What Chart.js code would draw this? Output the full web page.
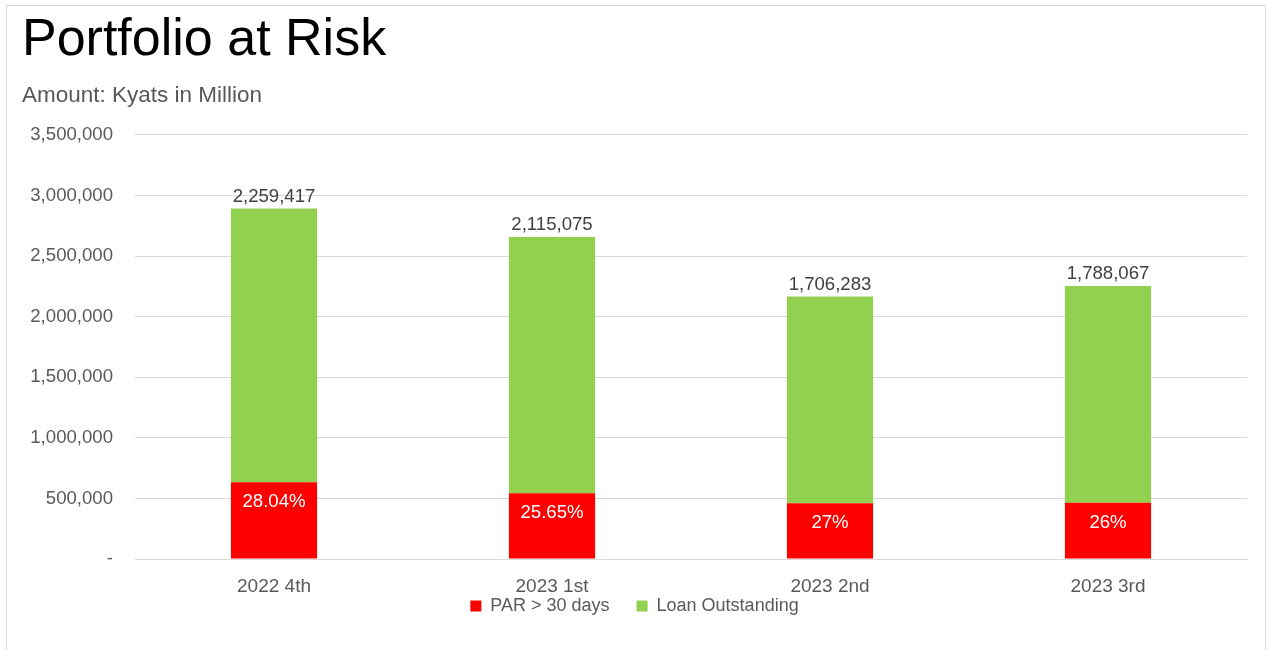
<!DOCTYPE html>
<html>
<head>
<meta charset="utf-8">
<script src="https://cdn.jsdelivr.net/npm/chart.js@4.4.0/dist/chart.umd.min.js"></script>
<style>
  html, body { margin: 0; padding: 0; background: #fff; }
  #wrap { position: relative; width: 1268px; height: 650px; }
  #frame { position: absolute; left: 6px; top: 5px; width: 1260px; height: 650px; border: 1px solid #d9d9d9; border-bottom: none; pointer-events: none; box-sizing: border-box; }
  canvas { position: absolute; left: 0; top: 0; }
</style>
</head>
<body>
<div id="wrap">
  <canvas id="c" width="1268" height="650"></canvas>
  <div id="frame"></div>
</div>
<script>
const categories = ['2022 4th', '2023 1st', '2023 2nd', '2023 3rd'];
const parValues = [633540, 542517, 460696, 464897];
const loanValues = [2259417, 2115075, 1706283, 1788067];
const parLabels = ['28.04%', '25.65%', '27%', '26%'];
const loanLabels = ['2,259,417', '2,115,075', '1,706,283', '1,788,067'];
const yTicks = [0, 500000, 1000000, 1500000, 2000000, 2500000, 3000000, 3500000];

const FONT = "'Liberation Sans', Arial, sans-serif";

const labelPlugin = {
  id: 'barLabels',
  afterDatasetsDraw(chart) {
    const ctx = chart.ctx;
    ctx.save();
    ctx.font = '18.6px ' + FONT;
    ctx.textAlign = 'center';
    ctx.textBaseline = 'middle';
    const m0 = chart.getDatasetMeta(0);
    m0.data.forEach((el, i) => {
      ctx.fillStyle = '#ffffff';
      ctx.fillText(parLabels[i], el.x, el.y + 20);
    });
    const m1 = chart.getDatasetMeta(1);
    m1.data.forEach((el, i) => {
      ctx.fillStyle = '#404040';
      ctx.fillText(loanLabels[i], el.x, el.y - 12);
    });
    ctx.restore();
  }
};

new Chart(document.getElementById('c'), {
  type: 'bar',
  data: {
    labels: categories,
    datasets: [
      { label: 'PAR > 30 days', data: parValues, backgroundColor: '#ff0000', barPercentage: 0.31, categoryPercentage: 1.0 },
      { label: 'Loan Outstanding', data: loanValues, backgroundColor: '#92d050', barPercentage: 0.31, categoryPercentage: 1.0 }
    ]
  },
  options: {
    responsive: false,
    animation: false,
    layout: { padding: { left: 22, right: 21, top: 0, bottom: 25 } },
    plugins: {
      title: {
        display: true, text: 'Portfolio at Risk', align: 'start', color: '#000000',
        font: { family: FONT, size: 52, weight: 'normal', lineHeight: 1.2 },
        padding: { top: 9, bottom: 0 }
      },
      subtitle: {
        display: true, text: 'Amount: Kyats in Million', align: 'start', color: '#595959',
        font: { family: FONT, size: 22.5, weight: 'normal', lineHeight: 1.2 },
        padding: { top: 11, bottom: 25.5 }
      },
      legend: {
        display: true, position: 'bottom',
        labels: { boxWidth: 11, boxHeight: 11, color: '#595959', font: { family: FONT, size: 18 }, padding: 27 }
      },
      tooltip: { enabled: false }
    },
    scales: {
      x: {
        stacked: true,
        afterFit(scale) {
          scale.height = 11;
          scale._computeLabelArea = () => undefined;
        },
        grid: { display: false, drawTicks: false },
        border: { display: true, color: '#d9d9d9' },
        ticks: { color: '#595959', font: { family: FONT, size: 19, lineHeight: 1.0 }, padding: 18 }
      },
      y: {
        stacked: true,
        min: 0, max: 3500000,
        afterFit(scale) { scale.width = 113; },
        afterBuildTicks(scale) { scale.ticks = yTicks.map(v => ({ value: v })); },
        grid: { color: '#d9d9d9', drawTicks: false },
        border: { display: false },
        ticks: {
          color: '#595959', font: { family: FONT, size: 18.6 }, padding: 22,
          callback: (v) => v === 0 ? '-' : v.toLocaleString('en-US')
        }
      }
    }
  },
  plugins: [labelPlugin]
});
</script>
</body>
</html>
